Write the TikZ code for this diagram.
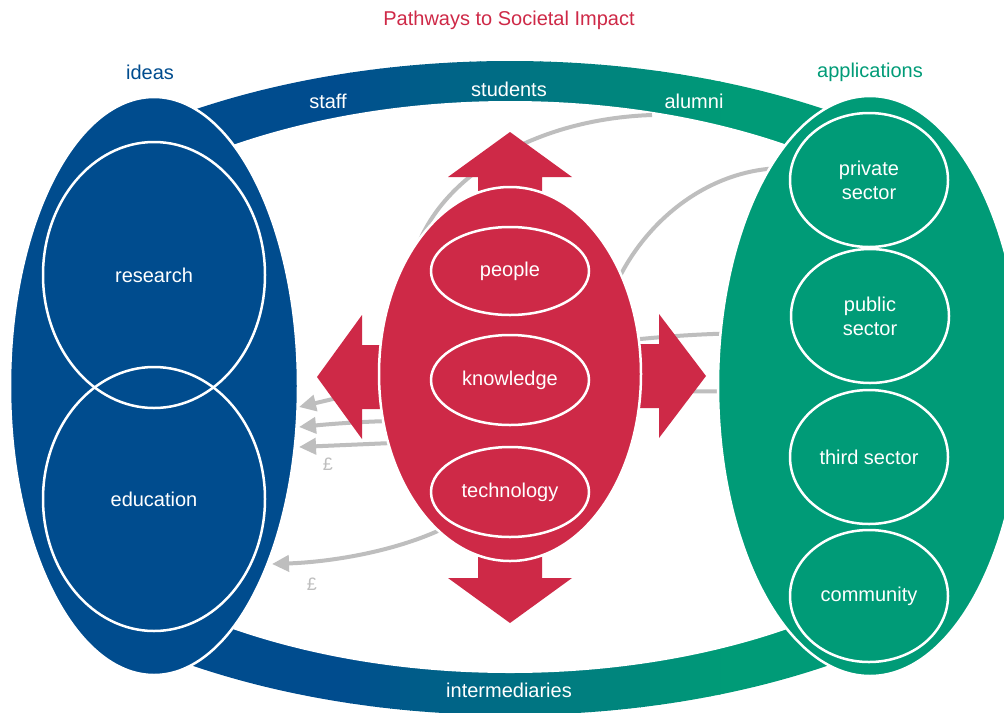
\documentclass[tikz,border=0pt]{standalone}
\usepackage{fontspec}
\setmainfont{Liberation Sans}
\usetikzlibrary{shapes.geometric,arrows.meta}
\definecolor{blueC}{RGB}{0,76,142}
\definecolor{greenC}{RGB}{0,155,119}
\definecolor{redC}{RGB}{206,41,71}
\definecolor{grayC}{RGB}{190,190,190}
\tikzset{
  gline/.style={draw=grayC, line width=4pt},
  garrow/.style={gline, -{Triangle[length=17pt,width=16pt]}},
  bigell/.style={ellipse, draw=white, line width=2.5pt, inner sep=0pt},
  inell/.style={ellipse, draw=white, line width=2.5pt, inner sep=0pt, text=white, align=center, font=\fontsize{20}{24}\selectfont},
  lbl/.style={text=white, font=\fontsize{20}{24}\selectfont, inner sep=0pt},
  redarrow/.style={fill=redC},
}
\begin{document}
\begin{tikzpicture}[x=1pt,y=-1pt]
\useasboundingbox (0,0) rectangle (1004,713);
\clip (0,0) rectangle (1004,713);
% ring band
\begin{scope}
  \clip (510,388) ellipse [x radius=601, y radius=327];
  \fill[blueC] (150,0) rectangle (341,713);
  \fill[greenC] (719,0) rectangle (910,713);
  \foreach \i in {0,...,37}{
    \pgfmathsetmacro\pp{100*(\i+0.5)/38}
    \fill[greenC!\pp!blueC] (340+10*\i,0) rectangle (350.6+10*\i,713);
  }
\end{scope}
\fill[white] (510,387) ellipse [x radius=520, y radius=286];
% title and headings
\node[text=redC, font=\fontsize{20}{24}\selectfont] (title) at (509,20) {Pathways to Societal Impact};
\node[text=blueC, font=\fontsize{20}{24}\selectfont] (ideas) at (150,72) {ideas};
\node[text=greenC, font=\fontsize{20}{24}\selectfont] (apps) at (870,72) {applications};
\node[lbl] (staff) at (328,101) {staff};
\node[lbl] (students) at (509,89) {students};
\node[lbl] (alumni) at (694,101) {alumni};
\node[lbl] (interm) at (509,690) {intermediaries};
% gray connector coordinates
\coordinate (g1s) at (652,115);
\coordinate (g1e) at (418,245);
\coordinate (g2s) at (790,168);
\coordinate (g2e) at (618,280);
\coordinate (r1s) at (630,340);
\coordinate (r1e) at (745,333);
\coordinate (r2s) at (630,392);
\coordinate (r2e) at (745,391);
\coordinate (l1s) at (392,385);
\coordinate (l1e) at (299,407);
\coordinate (l2s) at (390,421);
\coordinate (l2e) at (299,427);
\coordinate (l3s) at (392,443);
\coordinate (l3e) at (299,447);
\coordinate (b1s) at (440,530);
\coordinate (b1e) at (272,564);
% gray connectors
\draw[gline] (g1s) .. controls (535,119) and (445,175) .. (g1e);
\draw[gline] (g2s) .. controls (715,166) and (650,215) .. (g2e);
\draw[gline] (r1s) .. controls (670,336) and (700,334) .. (r1e);
\draw[gline] (r2s) -- (r2e);
\draw[garrow] (l1s) -- (l1e);
\draw[garrow] (l2s) .. controls (350,422) and (320,425) .. (l2e);
\draw[garrow] (l3s) -- (l3e);
\draw[garrow] (b1s) .. controls (392,552) and (330,562) .. (b1e);
\node[text=grayC, font=\fontsize{18}{20}\selectfont] (pound1) at (328,464) {£};
\node[text=grayC, font=\fontsize{18}{20}\selectfont] (pound2) at (312,584) {£};
% red arrows
\fill[redarrow] (478,195) -- (478,177) -- (448,177) -- (510,132) -- (572,177) -- (542,177) -- (542,195) -- cycle;
\fill[redarrow] (478,550) -- (478,578) -- (448,578) -- (510,623) -- (572,578) -- (542,578) -- (542,550) -- cycle;
\fill[redarrow] (390,345) -- (362,345) -- (362,315) -- (317,377) -- (362,439) -- (362,409) -- (390,409) -- cycle;
\fill[redarrow] (632,344) -- (659,344) -- (659,314) -- (706,376) -- (659,438) -- (659,408) -- (632,408) -- cycle;
% main ellipses
\node[bigell, fill=redC, minimum width=262pt, minimum height=374pt] (core) at (510,374) {};
\node[bigell, fill=blueC, minimum width=288pt, minimum height=578pt] (ideasE) at (154,386) {};
\node[bigell, fill=greenC, minimum width=304pt, minimum height=580pt] (appsE) at (870,386) {};
% inner ellipses
\node[inell, minimum width=222pt, minimum height=266pt] (research) at (154,275) {research};
\node[inell, minimum width=222pt, minimum height=264pt] (education) at (154,499) {education};
\node[inell, minimum width=158pt, minimum height=88pt] (people) at (510,271) {people};
\node[inell, minimum width=158pt, minimum height=90pt] (knowledge) at (510,380) {knowledge};
\node[inell, minimum width=158pt, minimum height=90pt] (technology) at (510,492) {technology};
\node[inell, minimum width=158pt, minimum height=134pt] (private) at (869,180) {private\\sector};
\node[inell, minimum width=158pt, minimum height=134pt] (public) at (870,316) {public\\sector};
\node[inell, minimum width=158pt, minimum height=134pt] (third) at (869,457) {third sector};
\node[inell, minimum width=158pt, minimum height=132pt] (community) at (869,596) {community};
\end{tikzpicture}
\end{document}
